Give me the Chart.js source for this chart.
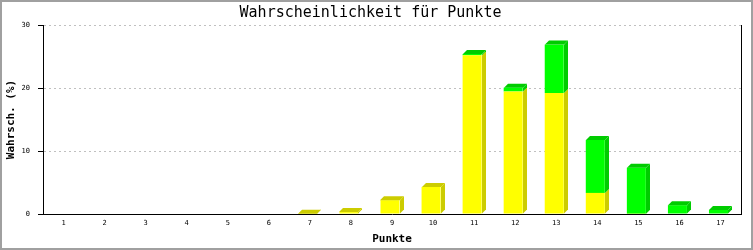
<!DOCTYPE html>
<html>
<head>
<meta charset="utf-8">
<script src="https://cdn.jsdelivr.net/npm/chart.js@4/dist/chart.umd.min.js"></script>
<style>
  html,body{margin:0;padding:0;background:#fff;}
  #c{display:block;}
</style>
</head>
<body>
<canvas id="c" width="753" height="250"></canvas>
<script>
/* Wahrscheinlichkeit für Punkte — gestapelte 3D-Balken */
const punkte = ['1','2','3','4','5','6','7','8','9','10','11','12','13','14','15','16','17'];
const gelb   = [0,0,0,0,0,0,0.05,0.3,2.2,4.3,25.2,19.45,19.2,3.35,0.05,0,0];
const gruen  = [0,0,0,0,0,0,0,0,0,0,0.2,0.6,7.7,8.4,7.3,1.4,0.65];
const yTicks = [0,10,20,30];

const MONO = '"DejaVu Sans Mono", "Liberation Mono", monospace';
const DEPTH = 4, SHIFT = -2;
const SIDE = ['#cccc00','#00cc00'];

const frame = {
  id:'frame',
  beforeDraw(ch){
    const c=ch.ctx; c.save();
    c.fillStyle='#fff'; c.fillRect(0,0,ch.width,ch.height);
    c.strokeStyle='#a0a0a0'; c.lineWidth=2; c.strokeRect(1,1,ch.width-2,ch.height-2);
    c.restore();
  },
  afterDraw(ch){
    const a=ch.chartArea, c=ch.ctx; c.save();
    c.strokeStyle='#000'; c.lineWidth=1;
    c.beginPath(); c.moveTo(Math.round(a.right)+0.5,a.top); c.lineTo(Math.round(a.right)+0.5,a.bottom); c.stroke();
    c.restore();
  }
};

/* Seiten- und Deckflächen */
const bars3d = {
  id:'bars3d',
  beforeDatasetsDraw(ch){ ch.ctx.save(); ch.ctx.translate(SHIFT,0); },
  afterDatasetsDraw(ch){
    const c=ch.ctx, n=ch.data.labels.length;
    for(let i=0;i<n;i++){
      let top=-1;
      ch.data.datasets.forEach((ds,k)=>{ if(ds.data[i]>0) top=k; });
      ch.data.datasets.forEach((ds,k)=>{
        if(!(ds.data[i]>0)) return;
        const el=ch.getDatasetMeta(k).data[i];
        const l=Math.round(el.x-el.width/2), r=Math.round(el.x+el.width/2);
        const y=el.y, b=el.base;
        c.fillStyle=SIDE[k];
        c.beginPath();
        c.moveTo(r,y); c.lineTo(r+DEPTH,y-DEPTH); c.lineTo(r+DEPTH,b-DEPTH); c.lineTo(r,b);
        c.closePath(); c.fill();
        if(k===top){
          c.beginPath();
          c.moveTo(l,y); c.lineTo(l+DEPTH,y-DEPTH); c.lineTo(r+DEPTH,y-DEPTH); c.lineTo(r,y);
          c.closePath(); c.fill();
        }
      });
    }
    c.restore();
  }
};

new Chart(document.getElementById('c'),{
  type:'bar',
  data:{labels:punkte, datasets:[
    {label:'gelb', data:gelb, backgroundColor:'#ffff00', borderWidth:0},
    {label:'grün', data:gruen, backgroundColor:'#00ff00', borderWidth:0}
  ]},
  options:{
    responsive:false, animation:false,
    layout:{padding:{left:0,right:12,top:0,bottom:0}},
    datasets:{bar:{categoryPercentage:1, barPercentage:0.463}},
    plugins:{
      legend:{display:false}, tooltip:{enabled:false},
      title:{display:true, text:'Wahrscheinlichkeit für Punkte', color:'#000',
        font:{family:MONO,size:15,weight:'normal',lineHeight:1.2}, padding:{top:4,bottom:3}}
    },
    scales:{
      x:{stacked:true,
        grid:{display:false, drawTicks:false},
        border:{display:true,color:'#000',width:1},
        ticks:{color:'#000',font:{family:MONO,size:7},padding:5,maxRotation:0,autoSkip:false},
        title:{display:true,text:'Punkte',color:'#000',font:{family:MONO,size:11,weight:'bold'},padding:{top:0,bottom:4}},
        afterFit(s){ s.height=36; }
      },
      y:{stacked:true, min:0, max:30,
        afterBuildTicks(s){ s.ticks=yTicks.map(v=>({value:v})); },
        grid:{color:'#c0c0c0', tickColor:'#000', tickBorderDash:[], tickLength:5, drawTicks:true},
        border:{display:true,color:'#000',width:1,dash:[2,3]},
        ticks:{color:'#000',font:{family:MONO,size:7},padding:8},
        title:{display:true,text:'Wahrsch. (%)',color:'#000',font:{family:MONO,size:11,weight:'bold'},padding:{top:5,bottom:0}},
        afterFit(s){ s.width=43; }
      }
    }
  },
  plugins:[frame,bars3d]
});
</script>
</body>
</html>
